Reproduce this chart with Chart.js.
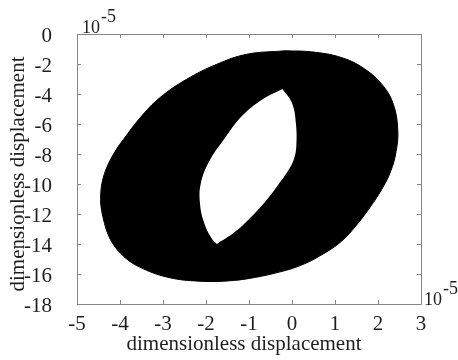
<!DOCTYPE html>
<html>
<head>
<meta charset="utf-8">
<script src="https://cdn.jsdelivr.net/npm/chart.js@4.4.1/dist/chart.umd.min.js"></script>
<style>
  html, body { margin: 0; padding: 0; background: #fff; }
  #wrap { width: 458px; height: 360px; }
</style>
</head>
<body>
<div id="wrap"><canvas id="orbit"></canvas></div>
<script>
// outer edge of the band (units of 1e-5), clockwise from the top
const outerX = [-0.17, 0.45, 1.15, 1.70, 2.12, 2.36, 2.46, 2.42, 2.29, 2.08, 1.82, 1.52, 1.15, 0.72, 0.19, -0.39, -1.02, -1.49, -1.90, -2.26, -2.59, -2.93, -3.22, -3.54, -3.77, -3.98, -4.15, -4.29, -4.38, -4.44, -4.45, -4.43, -4.37, -4.27, -4.09, -3.92, -3.53, -3.07, -2.45, -1.75, -1.05, -0.17]
const outerY = [-1.12, -1.19, -1.57, -2.35, -3.46, -4.71, -6.38, -7.85, -9.19, -10.39, -11.53, -12.67, -13.82, -14.67, -15.44, -15.94, -16.31, -16.46, -16.50, -16.46, -16.38, -16.19, -15.94, -15.54, -15.16, -14.64, -14.05, -13.27, -12.40, -11.53, -10.86, -10.13, -9.39, -8.66, -7.72, -7.03, -5.58, -4.24, -3.02, -2.02, -1.35, -1.12]

// hole in the middle, clockwise from the upper tip (the lower tip is listed twice so it stays sharp)
const innerX = [-0.22, 0.00, 0.09, 0.10, 0.04, -0.08, -0.24, -0.59, -1.02, -1.37, -1.75, -1.75, -1.87, -2.04, -2.14, -2.12, -1.93, -1.56, -1.17, -0.70, -0.22]
const innerY = [-3.66, -4.60, -5.94, -7.50, -8.39, -9.06, -9.73, -11.06, -12.40, -13.29, -14.00, -14.00, -13.62, -12.62, -11.28, -9.95, -8.52, -6.94, -5.49, -4.38, -3.66]

const xTicks = [-5, -4, -3, -2, -1, 0, 1, 2, 3]
const yTicks = [0, -2, -4, -6, -8, -10, -12, -14, -16, -18]

const axisTitle = "dimensionless displacement"
const serif = "'Liberation Serif', 'Times New Roman', serif"
const ink = "#1e1e1e"

const toPoints = (xs, ys) => xs.map((x, i) => ({ x: x, y: ys[i] }))

// box, inward ticks, axis titles and the 10^-5 multipliers
const frame = {
  id: "frame",
  afterDatasetsDraw(chart) {
    const { ctx, chartArea: a } = chart
    const sx = chart.scales.x
    const sy = chart.scales.y
    const len = 4
    ctx.save()
    ctx.strokeStyle = "#858585"
    ctx.lineWidth = 1
    ctx.beginPath()
    ctx.rect(a.left + 0.5, a.top + 0.5, a.right - a.left, a.bottom - a.top)
    xTicks.forEach(v => {
      const px = Math.round(sx.getPixelForValue(v)) + 0.5
      ctx.moveTo(px, a.bottom)
      ctx.lineTo(px, a.bottom - len)
      ctx.moveTo(px, a.top)
      ctx.lineTo(px, a.top + len)
    })
    yTicks.forEach(v => {
      const py = Math.round(sy.getPixelForValue(v)) + 0.5
      ctx.moveTo(a.left, py)
      ctx.lineTo(a.left + len, py)
      ctx.moveTo(a.right, py)
      ctx.lineTo(a.right - len, py)
    })
    ctx.stroke()

    ctx.fillStyle = ink
    ctx.font = "21px " + serif
    ctx.textAlign = "center"
    ctx.textBaseline = "middle"
    ctx.fillText(axisTitle, 244, 344)
    ctx.save()
    ctx.translate(18, 174)
    ctx.rotate(-Math.PI / 2)
    ctx.fillText(axisTitle, 0, 0)
    ctx.restore()

    ctx.textBaseline = "alphabetic"
    ctx.textAlign = "left"
    ctx.font = "18px " + serif
    const power = (x, y) => {
      ctx.fillText("10", x, y)
      const w = ctx.measureText("10").width
      ctx.fillText("-5", x + w + 1, y - 11)
    }
    power(a.left + 5, a.top - 1)
    power(a.right + 3, a.bottom + 1)
    ctx.restore()
  },
}

new Chart(document.getElementById("orbit"), {
  type: "scatter",
  data: {
    datasets: [
      {
        label: "outer",
        data: toPoints(outerX, outerY),
        showLine: true,
        fill: "shape",
        backgroundColor: "#000",
        borderColor: "#000",
        borderWidth: 1,
        pointRadius: 0,
        tension: 0.4,
        order: 2,
      },
      {
        label: "inner",
        data: toPoints(innerX, innerY),
        showLine: true,
        fill: "shape",
        backgroundColor: "#fff",
        borderColor: "#fff",
        borderWidth: 0,
        pointRadius: 0,
        tension: 0.4,
        order: 1,
      },
    ],
  },
  options: {
    responsive: true,
    maintainAspectRatio: false,
    animation: false,
    layout: { padding: { top: 34, right: 37, left: 0, bottom: 0 } },
    plugins: {
      legend: { display: false },
      tooltip: { enabled: false },
    },
    scales: {
      x: {
        type: "linear",
        min: -5,
        max: 3,
        afterBuildTicks: scale => {
          scale.ticks = xTicks.map(v => ({ value: v }))
        },
        afterFit: scale => {
          scale.height = 56
        },
        grid: { display: false },
        border: { display: false },
        ticks: {
          color: ink,
          font: { family: serif, size: 21 },
          padding: 0,
          maxRotation: 0,
        },
      },
      y: {
        type: "linear",
        min: -18,
        max: 0,
        afterBuildTicks: scale => {
          scale.ticks = yTicks.map(v => ({ value: v }))
        },
        afterFit: scale => {
          scale.width = 77
        },
        grid: { display: false },
        border: { display: false },
        ticks: {
          color: ink,
          font: { family: serif, size: 21 },
          padding: 17,
          labelOffset: 2,
        },
      },
    },
  },
  plugins: [frame],
})
</script>
</body>
</html>
